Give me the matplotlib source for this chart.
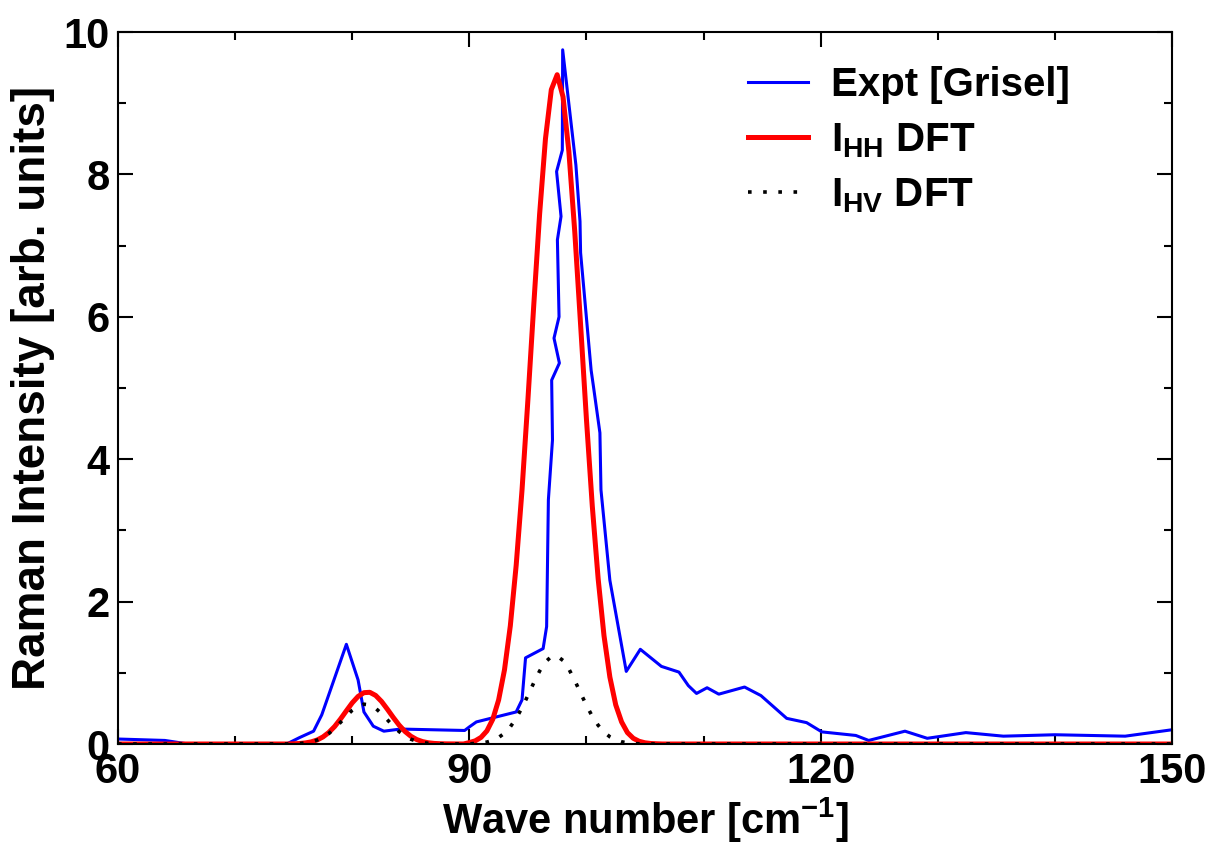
import matplotlib
matplotlib.use("Agg")
import matplotlib.pyplot as plt
from matplotlib.ticker import MultipleLocator

plt.rcParams['font.family'] = ['Liberation Sans', 'DejaVu Sans']
plt.rcParams['font.weight'] = 'bold'
plt.rcParams['mathtext.fontset'] = 'custom'
plt.rcParams['mathtext.rm'] = 'Liberation Sans:bold'
plt.rcParams['mathtext.it'] = 'Liberation Sans:bold'
plt.rcParams['mathtext.bf'] = 'Liberation Sans:bold'

expt_x = [60, 64, 66, 74.4, 75.5, 76.7, 77.4, 79.5, 80.5, 81.0, 81.8, 82.7, 84.1,
          89.6, 90.0, 90.6, 94.0, 94.5, 94.8, 96.3, 96.6, 96.75, 97.1, 97.03,
          97.69, 97.23, 97.66, 97.52, 97.83, 97.45, 97.94, 97.97, 99.1, 99.45,
          99.5, 100.4, 100.6, 101.15, 101.24, 102.0, 103.4, 104.6, 106.4, 107.9,
          108.7, 109.4, 110.3, 111.3, 113.5, 114.9, 117.1, 118.8, 120.1, 123.0,
          124.1, 127.2, 129.1, 132.4, 135.6, 140.0, 146.0, 150.0]
expt_y = [0.07, 0.05, 0.0, 0.0, 0.09, 0.18, 0.41, 1.40, 0.90, 0.45, 0.25, 0.18, 0.21,
          0.19, 0.24, 0.31, 0.45, 0.62, 1.21, 1.34, 1.65, 3.43, 4.27, 5.11,
          5.35, 5.70, 6.00, 7.08, 7.41, 8.04, 8.34, 9.75, 8.13, 7.34,
          6.90, 5.25, 5.02, 4.37, 3.57, 2.30, 1.02, 1.33, 1.09, 1.01,
          0.82, 0.71, 0.79, 0.70, 0.80, 0.68, 0.36, 0.30, 0.17, 0.12,
          0.05, 0.18, 0.08, 0.16, 0.11, 0.13, 0.11, 0.20]

# DFT spectra, sampled every 0.5 cm^-1 around the two bands
dft_x = [60, 74.5,
         75, 75.5, 76, 76.5, 77, 77.5, 78, 78.5, 79, 79.5, 80, 80.5, 81, 81.5,
         82, 82.5, 83, 83.5, 84, 84.5, 85, 85.5, 86, 86.5, 87, 87.5, 88,
         89.5, 90, 90.5, 91, 91.5, 92, 92.5, 93, 93.5, 94, 94.5, 95, 95.5, 96,
         96.5, 97, 97.5, 98, 98.5, 99, 99.5, 100, 100.5, 101, 101.5, 102, 102.5,
         103, 103.5, 104, 104.5, 105, 105.5, 106, 106.5, 150]
ihh_y = [0, 0,
         0.003, 0.007, 0.015, 0.030, 0.056, 0.099, 0.162, 0.246, 0.351, 0.466,
         0.578, 0.668, 0.721, 0.726, 0.682, 0.598, 0.489, 0.374, 0.266, 0.177,
         0.110, 0.063, 0.034, 0.017, 0.008, 0.004, 0.002,
         0.0, 0.020, 0.044, 0.093, 0.184, 0.347, 0.618, 1.04, 1.66, 2.51, 3.57,
         4.83, 6.16, 7.44, 8.50, 9.19, 9.40, 9.09, 8.32, 7.20, 5.89, 4.56, 3.34,
         2.32, 1.52, 0.94, 0.55, 0.31, 0.16, 0.080, 0.038, 0.017, 0.007, 0.003,
         0.0, 0]
ihv_y = [0, 0,
         0.003, 0.007, 0.015, 0.030, 0.055, 0.093, 0.148, 0.220, 0.304, 0.393,
         0.474, 0.533, 0.559, 0.548, 0.501, 0.427, 0.340, 0.252, 0.175, 0.113,
         0.068, 0.038, 0.020, 0.010, 0.005, 0.002, 0.0,
         0.0, 0.003, 0.007, 0.014, 0.027, 0.051, 0.091, 0.152, 0.241, 0.361,
         0.510, 0.681, 0.859, 1.024, 1.153, 1.227, 1.234, 1.173, 1.053, 0.893,
         0.716, 0.543, 0.388, 0.263, 0.168, 0.101, 0.058, 0.031, 0.016, 0.008,
         0.003, 0.0, 0.0, 0.0, 0.0, 0]

fig = plt.figure(figsize=(12.14, 8.52), dpi=100)
ax = fig.add_axes([118 / 1214, 1 - 744 / 852, (1172 - 118) / 1214, (744 - 32) / 852])

ax.plot(expt_x, expt_y, color='#0000ff', lw=2.2, label='Expt [Grisel]')
ax.plot(dft_x, ihh_y, color='#ff0000', lw=3.6, label=r'I$_{HH}$ DFT')
ax.plot(dft_x, ihv_y, color='black', lw=2.6, linestyle=(0, (1, 3.2)),
        label=r'I$_{HV}$ DFT')

ax.set_xlim(60, 150)
ax.set_ylim(0, 10)
ax.xaxis.set_major_locator(MultipleLocator(30))
ax.xaxis.set_minor_locator(MultipleLocator(10))
ax.yaxis.set_major_locator(MultipleLocator(2))
ax.yaxis.set_minor_locator(MultipleLocator(1))
ax.tick_params(which='both', direction='in', top=True, right=True, width=1.5,
               labelsize=30, pad=6)
ax.tick_params(which='major', length=11)
ax.tick_params(which='minor', length=6)
for s in ax.spines.values():
    s.set_linewidth(1.5)

ax.set_xlabel(r'Wave number [cm$^{-1}$]', fontsize=30, fontweight='bold', labelpad=2)
ax.set_ylabel('Raman Intensity [arb. units]', fontsize=33, fontweight='bold', labelpad=6)

ax.legend(loc='upper left', bbox_to_anchor=(748 / 1214, 1 - 66 / 852),
          bbox_transform=fig.transFigure, frameon=False, fontsize=29,
          handlelength=1.5, handletextpad=0.55, borderpad=0, borderaxespad=0,
          labelspacing=0.42)

fig.savefig('out.png', dpi=100)
